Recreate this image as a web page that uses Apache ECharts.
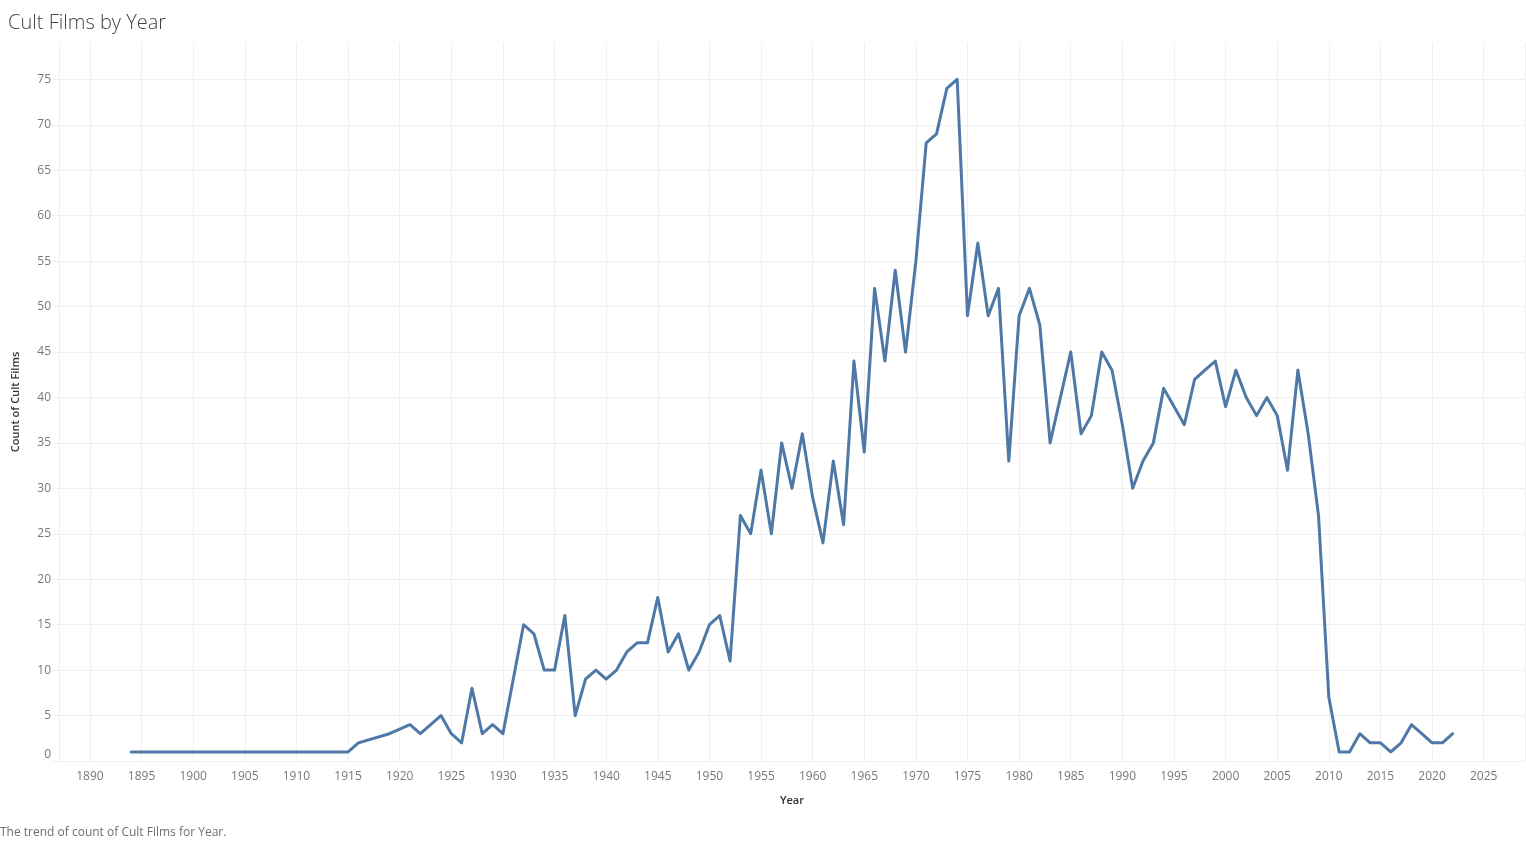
<!DOCTYPE html>
<html>
<head>
<meta charset="utf-8">
<title>Cult Films by Year</title>
<script src="https://cdn.jsdelivr.net/npm/echarts@6/dist/echarts.min.js"></script>
<style>
  html, body { margin: 0; padding: 0; background: #fff; }
  #chart { width: 1526px; height: 841px; }
</style>
</head>
<body>
<div id="chart"></div>
<script>
// years that have at least one cult film, and the count for each
const years = [
  1894, 1915, 1916, 1919, 1921, 1922, 1923, 1924, 1925, 1926, 1927, 1928, 1929, 1930,
  1931, 1932, 1933, 1934, 1935, 1936, 1937, 1938, 1939, 1940, 1941, 1942, 1943, 1944,
  1945, 1946, 1947, 1948, 1949, 1950, 1951, 1952, 1953, 1954, 1955, 1956, 1957, 1958,
  1959, 1960, 1961, 1962, 1963, 1964, 1965, 1966, 1967, 1968, 1969, 1970, 1971, 1972,
  1973, 1974, 1975, 1976, 1977, 1978, 1979, 1980, 1981, 1982, 1983, 1984, 1985, 1986,
  1987, 1988, 1989, 1990, 1991, 1992, 1993, 1994, 1995, 1996, 1997, 1998, 1999, 2000,
  2001, 2002, 2003, 2004, 2005, 2006, 2007, 2008, 2009, 2010, 2011, 2012, 2013, 2014,
  2015, 2016, 2017, 2018, 2019, 2020, 2021, 2022
];
const counts = [
  1, 1, 2, 3, 4, 3, 4, 5, 3, 2, 8, 3, 4, 3,
  9, 15, 14, 10, 10, 16, 5, 9, 10, 9, 10, 12, 13, 13,
  18, 12, 14, 10, 12, 15, 16, 11, 27, 25, 32, 25, 35, 30,
  36, 29, 24, 33, 26, 44, 34, 52, 44, 54, 45, 55, 68, 69,
  74, 75, 49, 57, 49, 52, 33, 49, 52, 48, 35, 40, 45, 36,
  38, 45, 43, 37, 30, 33, 35, 41, 39, 37, 42, 43, 44, 39,
  43, 40, 38, 40, 38, 32, 43, 36, 27, 7, 1, 1, 3, 2,
  2, 1, 2, 4, 3, 2, 2, 3
];

var chartDom = document.getElementById("chart");
var myChart = echarts.init(chartDom);
var option;

const gridColor = "#f0f0f0";
const labelColor = "#787878";

option = {
  animation: false,
  textStyle: { fontFamily: "Open Sans, sans-serif" },
  title: {
    text: "Cult Films by Year",
    left: 3,
    top: 8,
    textStyle: {
      fontSize: 20,
      fontWeight: 300,
      color: "#444",
      fontFamily: "Open Sans, sans-serif",
    },
  },
  graphic: [
    {
      type: "text",
      left: 0,
      top: 827,
      style: {
        text: "The trend of count of Cult Films for Year.",
        fontSize: 12,
        fill: "#6e6e6e",
        fontFamily: "Open Sans, sans-serif",
      },
    },
  ],
  grid: {
    left: 59,
    right: 1,
    top: 43,
    bottom: 80,
  },
  xAxis: {
    type: "value",
    min: 1887,
    max: 2029,
    splitNumber: 28,
    name: "Year",
    nameLocation: "middle",
    nameGap: 34,
    nameTextStyle: { fontSize: 11, color: "#333", fontWeight: 600 },
    axisLine: { show: false },
    axisTick: { show: false },
    axisLabel: {
      color: labelColor,
      fontSize: 12,
      margin: 10,
      showMinLabel: false,
      showMaxLabel: false,
      formatter: (v) => String(v),
    },
    splitLine: { show: true, lineStyle: { color: gridColor, width: 1 } },
  },
  yAxis: {
    type: "value",
    min: 0,
    max: 79,
    interval: 5,
    name: "Count of Cult Films",
    nameLocation: "middle",
    nameGap: 38,
    nameTextStyle: { fontSize: 11, color: "#333", fontWeight: 600 },
    axisLine: { show: false },
    axisTick: { show: true, length: 7, lineStyle: { color: gridColor } },
    axisLabel: {
      color: labelColor,
      fontSize: 12,
      margin: 8,
      showMaxLabel: false,
      verticalAlignMinLabel: "bottom",
    },
    splitLine: {
      show: true,
      showMaxLine: false,
      lineStyle: { color: gridColor, width: 1 },
    },
  },
  series: [
    {
      name: "Count of Cult Films",
      type: "line",
      data: years.map((y, i) => [y, counts[i]]),
      showSymbol: false,
      symbol: "none",
      lineStyle: { color: "#4e79a7", width: 3, join: "round", cap: "round" },
      itemStyle: { color: "#4e79a7" },
    },
  ],
};

option && myChart.setOption(option);
</script>
</body>
</html>
